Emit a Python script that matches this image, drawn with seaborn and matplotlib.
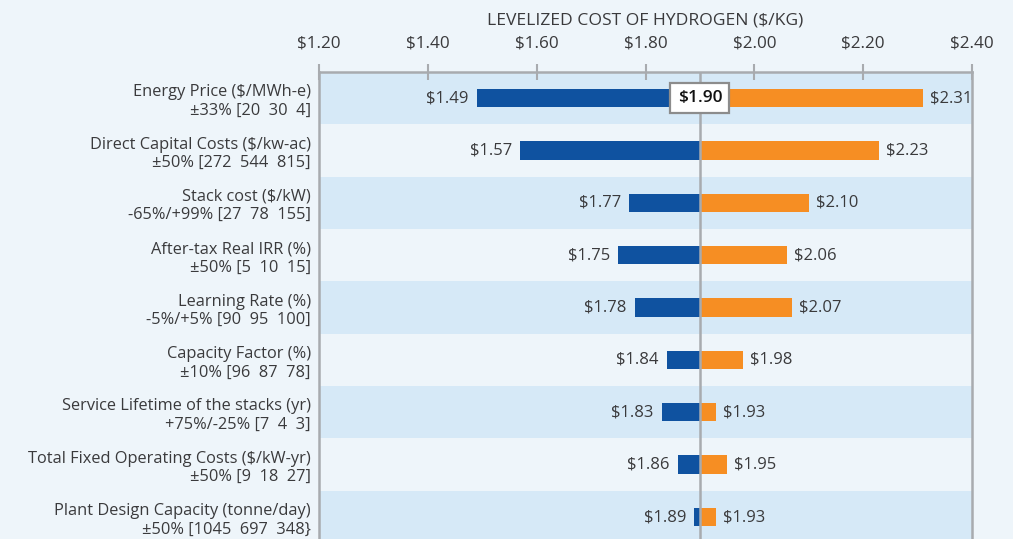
import numpy as np
import pandas as pd
import matplotlib
matplotlib.use("Agg")
import matplotlib.pyplot as plt
import seaborn as sns
from matplotlib.ticker import FuncFormatter

# --- data ---
PARAMS = [
    "Energy Price ($/MWh-e)\n±33% [20  30  4]",
    "Direct Capital Costs ($/kw-ac)\n±50% [272  544  815]",
    "Stack cost ($/kW)\n-65%/+99% [27  78  155]",
    "After-tax Real IRR (%)\n±50% [5  10  15]",
    "Learning Rate (%)\n-5%/+5% [90  95  100]",
    "Capacity Factor (%)\n±10% [96  87  78]",
    "Service Lifetime of the stacks (yr)\n+75%/-25% [7  4  3]",
    "Total Fixed Operating Costs ($/kW-yr)\n±50% [9  18  27]",
    "Plant Design Capacity (tonne/day)\n±50% [1045  697  348}",
]
LOW = [1.49, 1.57, 1.77, 1.75, 1.78, 1.84, 1.83, 1.86, 1.89]
HIGH = [2.31, 2.23, 2.10, 2.06, 2.07, 1.98, 1.93, 1.95, 1.93]
BASE = 1.90
TICKS = [1.20, 1.40, 1.60, 1.80, 2.00, 2.20, 2.40]

BG = "#EEF5FA"
BAND = "#D6E9F7"
BLUE = "#0F52A0"
ORANGE = "#F68E23"
GREY = "#A8ABAF"
TXT = "#3A3A3C"

sns.set_theme(style="white")
plt.rcParams["font.family"] = ["Open Sans", "DejaVu Sans"]

# bars are drawn as offsets from the base case, axis labels show absolute cost
df = pd.DataFrame({
    "param": PARAMS * 2,
    "side": ["low"] * len(PARAMS) + ["high"] * len(PARAMS),
    "delta": [v - BASE for v in LOW] + [v - BASE for v in HIGH],
})

fig = plt.figure(figsize=(10.13, 5.39), dpi=100, facecolor=BG)
ax = fig.add_axes([319 / 1013, 0.0, (972 - 319) / 1013, 1 - 72 / 539])
ax.set_facecolor(BG)

for i in range(0, len(PARAMS), 2):
    ax.axhspan(i - 0.5, i + 0.5, color=BAND, lw=0, zorder=0)

sns.barplot(data=df, x="delta", y="param", hue="side", order=PARAMS,
            palette={"low": BLUE, "high": ORANGE}, dodge=False, width=0.35,
            orient="h", legend=False, ax=ax, zorder=2, saturation=1, linewidth=0)

ax.axvline(0, color=GREY, lw=1.8, zorder=3)

for i, (lo, hi) in enumerate(zip(LOW, HIGH)):
    ax.annotate(f"${lo:.2f}", (lo - BASE, i), xytext=(-6, 0), textcoords="offset points",
                ha="right", va="center", fontsize=12, color=TXT, zorder=4)
    ax.annotate(f"${hi:.2f}", (hi - BASE, i), xytext=(5, 0), textcoords="offset points",
                ha="left", va="center", fontsize=12, color=TXT, zorder=4)

ax.text(0, 0, f"${BASE:.2f}", ha="center", va="center", fontsize=12.5,
        fontweight="semibold", color="#111111", zorder=5,
        bbox=dict(boxstyle="square,pad=0.42", fc="white", ec="#8C8C8C", lw=1.6))

ax.set_xlim(TICKS[0] - BASE, TICKS[-1] - BASE)
ax.set_ylim(8.42, -0.5)
ax.set_xticks([t - BASE for t in TICKS])
ax.xaxis.set_major_formatter(FuncFormatter(lambda v, p: f"${v + BASE:.2f}"))
ax.xaxis.tick_top()
ax.xaxis.set_label_position("top")
ax.tick_params(axis="x", direction="inout", length=11, width=1.5, color=GREY,
               labelsize=12.3, labelcolor=TXT, pad=9, bottom=False)
ax.set_xlabel("LEVELIZED COST OF HYDROGEN ($/KG)", fontsize=12.6, color=TXT, labelpad=8)
ax.set_ylabel("")
ax.tick_params(axis="y", length=0, labelsize=11.8, labelcolor=TXT, pad=6)

for side in ["top", "left", "right"]:
    ax.spines[side].set_color(GREY)
    ax.spines[side].set_linewidth(1.8)
ax.spines["bottom"].set_visible(False)

fig.savefig("out.png", dpi=100, facecolor=BG)
